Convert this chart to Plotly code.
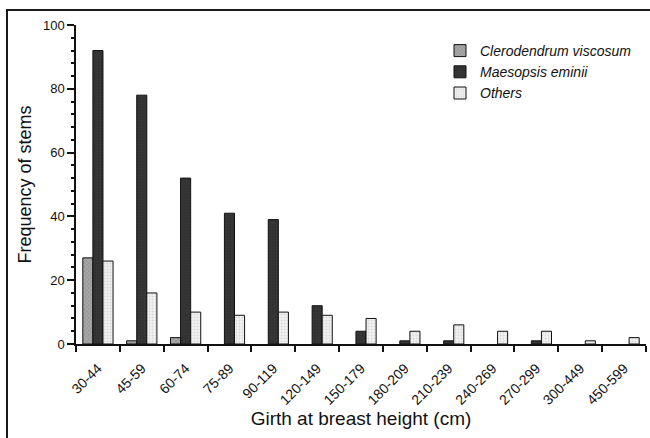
import plotly.graph_objects as go

categories = ["30-44", "45-59", "60-74", "75-89", "90-119", "120-149", "150-179",
              "180-209", "210-239", "240-269", "270-299", "300-449", "450-599"]
clerodendrum = [27, 1, 2, 0, 0, 0, 0, 0, 0, 0, 0, 0, 0]
maesopsis = [92, 78, 52, 41, 39, 12, 4, 1, 1, 0, 1, 0, 0]
others = [26, 16, 10, 9, 10, 9, 8, 4, 6, 4, 4, 1, 2]

W, H = 650, 438
ML, MR, MT, MB = 76, 4, 25, 94
PW, PH = W - ML - MR, H - MT - MB


def nz(vals):
    # zero counts draw no bar in the original
    return [v if v != 0 else None for v in vals]


fig = go.Figure()
fig.add_trace(go.Bar(
    x=categories, y=nz(clerodendrum), name="Clerodendrum viscosum",
    marker=dict(color="#a8a8a8", line=dict(color="#111", width=1),
                pattern=dict(shape="x", fgcolor="#666", size=3, solidity=0.3)),
))
fig.add_trace(go.Bar(
    x=categories, y=nz(maesopsis), name="Maesopsis eminii",
    marker=dict(color="#363636", line=dict(color="#111", width=1),
                pattern=dict(shape=".", fgcolor="#262626", size=3, solidity=0.3)),
))
fig.add_trace(go.Bar(
    x=categories, y=nz(others), name="Others",
    marker=dict(color="#f2f2f2", line=dict(color="#111", width=1),
                pattern=dict(shape=".", fgcolor="#bbbbbb", size=3, solidity=0.3)),
))


def px_x(p):
    return (p - ML) / PW


def px_y(p):
    return (H - MB - p) / PH


# outer frame of the figure (only the top and left edges are visible)
shapes = [
    dict(type="line", xref="paper", yref="paper",
         x0=px_x(6), x1=px_x(650), y0=px_y(10), y1=px_y(10),
         line=dict(color="#1a1a1a", width=2), layer="above"),
    dict(type="line", xref="paper", yref="paper",
         x0=px_x(7), x1=px_x(7), y0=px_y(9), y1=px_y(438),
         line=dict(color="#1a1a1a", width=2), layer="above"),
]

fig.update_layout(
    width=W, height=H,
    margin=dict(l=ML, r=MR, t=MT, b=MB, autoexpand=False),
    paper_bgcolor="white", plot_bgcolor="white",
    barmode="group", bargap=0.31, bargroupgap=0,
    font=dict(family="Liberation Sans, Arial, sans-serif", color="#111", size=13),
    showlegend=True,
    legend=dict(x=px_x(440), y=px_y(35), xanchor="left", yanchor="top",
                font=dict(size=14, style="italic"), bgcolor="rgba(0,0,0,0)",
                itemwidth=30, tracegroupgap=0),
    shapes=shapes,
    xaxis=dict(
        type="category", tickson="boundaries", ticks="outside", ticklen=6,
        tickcolor="#111", tickwidth=1.5, showline=True, linecolor="#111", linewidth=1.5,
        tickangle=-45, tickfont=dict(size=14), showgrid=False, automargin=False,
        ticklabelstandoff=9,
        title=dict(text="Girth at breast height (cm)", font=dict(size=19), standoff=2),
    ),
    yaxis=dict(
        range=[0, 100], tickvals=[0, 20, 40, 60, 80, 100], ticks="outside", ticklen=7,
        tickcolor="#111", tickwidth=1.5, showline=True, linecolor="#111", linewidth=1.5,
        showgrid=False, zeroline=False, tickfont=dict(size=13), automargin=False,
        minor=dict(dtick=4, tick0=0, ticks="outside", ticklen=3, tickcolor="#111"),
        title=dict(text="Frequency of stems", font=dict(size=18), standoff=7),
    ),
)

fig.write_html("out.html", config={"displayModeBar": False},
               post_script="document.body.style.margin='0px';")
